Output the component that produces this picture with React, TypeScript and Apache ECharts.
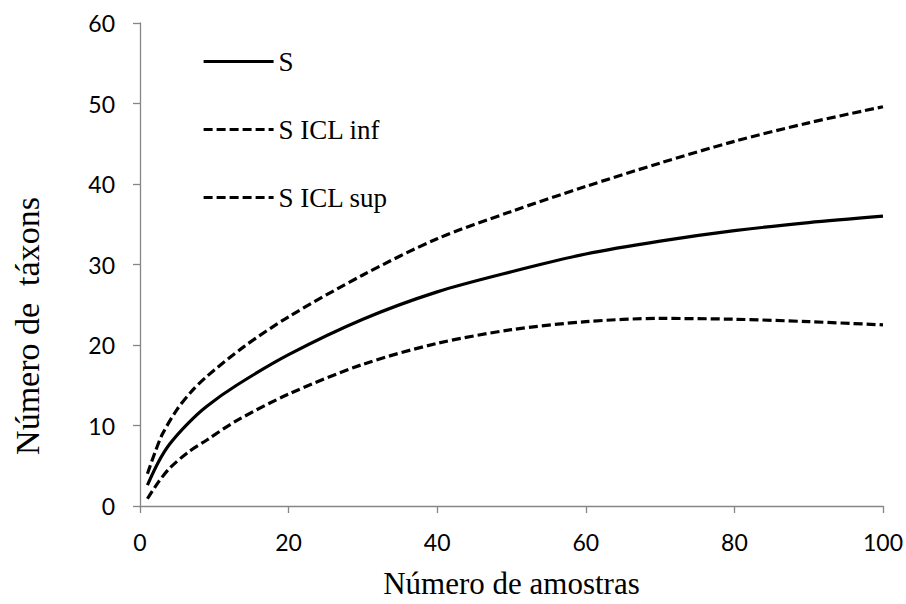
import React, { useEffect, useRef } from "react";
import * as echarts from "echarts";

const xS = [1, 2.5, 4, 6.5, 9, 13, 20, 30, 40, 50, 60, 70, 80, 90, 100];
const sValues = [2.6, 5.5, 7.7, 10.3, 12.4, 15.0, 18.8, 23.2, 26.6, 29.1, 31.3, 32.9, 34.2, 35.2, 36.0];

const xSup = [1, 2, 3, 5, 7, 9, 14, 20, 30, 40, 50, 60, 70, 80, 90, 100];
const supValues = [4.0, 6.6, 8.9, 12.0, 14.3, 16.1, 19.8, 23.5, 28.7, 33.2, 36.6, 39.7, 42.6, 45.3, 47.6, 49.6];

const xInf = [1, 2.5, 4, 6.5, 9, 13, 20, 30, 40, 50, 60, 70, 80, 90, 100];
const infValues = [0.9, 3.0, 4.7, 6.7, 8.2, 10.6, 13.9, 17.6, 20.2, 21.9, 22.9, 23.3, 23.2, 22.9, 22.5];

const seriesNames = ["S", "S ICL inf", "S ICL sup"];
const xTitle = "Número de amostras";
const yTitle = "Número de  táxons";

const pairs = (xs: number[], ys: number[]) => xs.map((x, i) => [x, ys[i]]);

export default function App() {
  const ref = useRef<HTMLDivElement>(null);
  useEffect(() => {
    if (!ref.current) return;
    const chart = echarts.init(ref.current, null, { renderer: "svg" });
    const axisColor = "#868686";
    const tickFont = { fontFamily: "Lato", fontSize: 23, color: "#000" };
    const lineCommon = {
      type: "line",
      smooth: 0.3,
      symbol: "none",
      showSymbol: false,
      itemStyle: { color: "#000" },
    };
    chart.setOption({
      animation: false,
      backgroundColor: "#fff",
      grid: { left: 140, right: 23, top: 23, bottom: 93, containLabel: false },
      legend: {
        orient: "vertical",
        left: 197,
        top: 43,
        itemWidth: 70,
        itemHeight: 14,
        itemGap: 41,
        itemStyle: { opacity: 0 },
        lineStyle: { width: 3.2 },
        textStyle: { fontFamily: "Liberation Serif", fontSize: 27, color: "#000", lineHeight: 27 },
        data: seriesNames,
      },
      graphic: [
        {
          type: "text",
          x: 27,
          y: 326,
          rotation: Math.PI / 2,
          style: {
            text: yTitle,
            fontFamily: "Liberation Serif",
            fontSize: 34,
            fill: "#000",
            textAlign: "center",
            textVerticalAlign: "middle",
          },
        },
      ],
      xAxis: {
        type: "value",
        min: 0,
        max: 100,
        interval: 20,
        splitLine: { show: false },
        axisLine: { lineStyle: { color: axisColor, width: 1.3 } },
        axisTick: { show: true, length: 7, lineStyle: { color: axisColor, width: 1.3 } },
        axisLabel: { ...tickFont, margin: 24 },
        name: xTitle,
        nameLocation: "middle",
        nameGap: 62,
        nameTextStyle: { fontFamily: "Liberation Serif", fontSize: 31, color: "#000" },
      },
      yAxis: {
        type: "value",
        min: 0,
        max: 60,
        interval: 10,
        splitLine: { show: false },
        axisLine: { show: true, lineStyle: { color: axisColor, width: 1.3 } },
        axisTick: { show: true, length: 7, lineStyle: { color: axisColor, width: 1.3 } },
        axisLabel: { ...tickFont, margin: 25 },
      },
      series: [
        {
          ...lineCommon,
          name: seriesNames[0],
          data: pairs(xS, sValues),
          lineStyle: { color: "#000", width: 3.2, type: "solid" },
        },
        {
          ...lineCommon,
          name: seriesNames[1],
          data: pairs(xSup, supValues),
          lineStyle: { color: "#000", width: 3.2, type: [9, 4] },
        },
        {
          ...lineCommon,
          name: seriesNames[2],
          data: pairs(xInf, infValues),
          lineStyle: { color: "#000", width: 3.2, type: [9, 4] },
        },
      ],
    });
    return () => chart.dispose();
  }, []);
  return <div ref={ref} style={{ width: 906, height: 604, position: "absolute", left: 0, top: 0 }} />;
}
